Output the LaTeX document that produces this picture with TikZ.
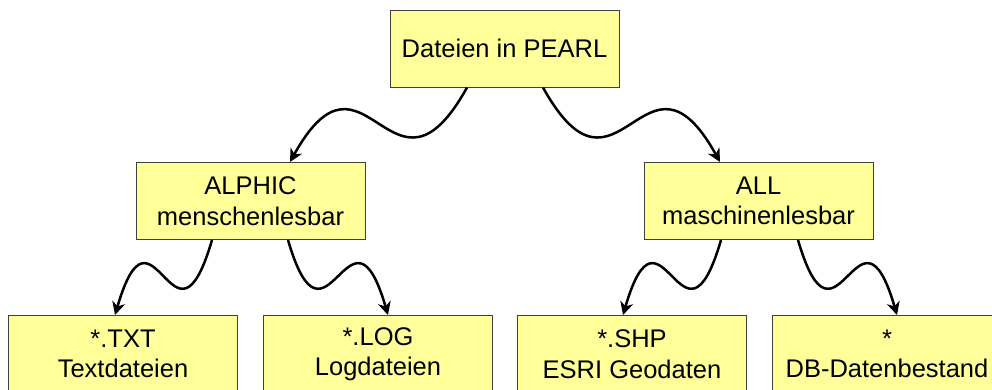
\documentclass[tikz,border=0pt]{standalone}
\usepackage{fontspec}
\setmainfont{Liberation Sans}
\usetikzlibrary{arrows.meta}
\definecolor{boxfill}{HTML}{FFFF99}
\definecolor{boxline}{HTML}{404040}
\tikzset{
  filebox/.style={draw=boxline, line width=1pt, fill=boxfill,
    minimum width=229pt, minimum height=77pt, inner sep=0pt,
    align=center, font=\fontsize{25.5}{30.5}\selectfont},
  wave/.style={draw=black, line width=2.5pt,
    -{Stealth[length=13pt,width=13pt,inset=4pt]}}
}
\begin{document}
\begin{tikzpicture}[x=1pt,y=-1pt]
  \useasboundingbox (0,0) rectangle (992,389);
  \clip (0,0) rectangle (992,389);

  % boxes
  \node[filebox] (root)  at (504.5,48.5) {Dateien in PEARL};
  \node[filebox] (alphic) at (250.5,201) {ALPHIC\\menschenlesbar};
  \node[filebox] (all)    at (758.5,201) {ALL\\maschinenlesbar};
  \node[filebox] (txt) at (123,354) {*.TXT\\Textdateien};
  \node[filebox] (log) at (378,354) {*.LOG\\Logdateien};
  \node[filebox] (shp) at (632,354) {*.SHP\\ESRI Geodaten};
  \node[filebox] (db)  at (887,354) {*\\DB-Datenbestand};

  % wavy connectors
  \draw[wave] ([xshift=-37.5pt]root.south) .. controls +(-75,135) and +(75,-135) .. ([xshift=39.5pt]alphic.north);
  \draw[wave] ([xshift=38.5pt]root.south) .. controls +(75,135) and +(-75,-135) .. ([xshift=-38.5pt]all.north);

  \draw[wave] ([xshift=-38.5pt]alphic.south) .. controls +(-38,130) and +(38,-130) .. ([xshift=-8pt]txt.north);
  \draw[wave] ([xshift=37.5pt]alphic.south) .. controls +(38,130) and +(-38,-130) .. ([xshift=10pt]log.north);

  \draw[wave] ([xshift=-37.5pt]all.south) .. controls +(-38,130) and +(38,-130) .. ([xshift=-9pt]shp.north);
  \draw[wave] ([xshift=39.5pt]all.south) .. controls +(38,130) and +(-38,-130) .. ([xshift=10pt]db.north);
\end{tikzpicture}
\end{document}
